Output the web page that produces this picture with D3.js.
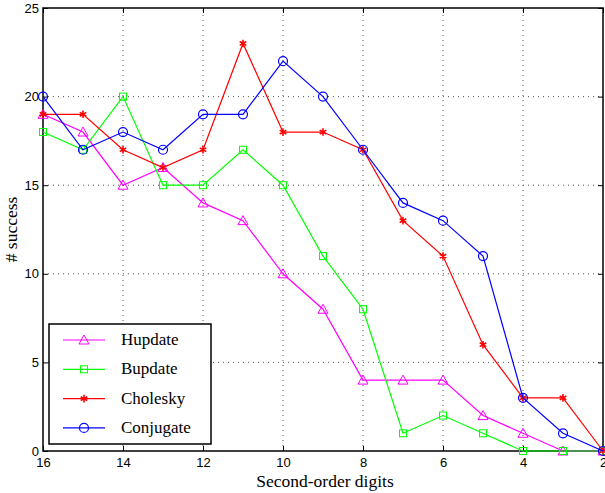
<!DOCTYPE html>
<html>
<head>
<meta charset="utf-8">
<script src="https://cdn.jsdelivr.net/npm/d3@7"></script>
<style>
  body { margin: 0; background: #fff; }
  .tick text { font-family: "Liberation Sans", Arial, sans-serif; font-size: 13px; fill: #000; }
  .lbl { font-family: "Liberation Serif", "Times New Roman", serif; font-size: 17.5px; fill: #000; }
  .leg { font-family: "Liberation Serif", "Times New Roman", serif; font-size: 17px; fill: #000; }
</style>
</head>
<body>
<script>
// digits on the x axis (reversed)
var digits = [16, 15, 14, 13, 12, 11, 10, 9, 8, 7, 6, 5, 4, 3, 2];
var xTicks = [16, 14, 12, 10, 8, 6, 4, 2];
var yTicks = [0, 5, 10, 15, 20, 25];

var hupdate   = [19, 18, 15, 16, 14, 13, 10, 8, 4, 4, 4, 2, 1, 0, 0];
var bupdate   = [18, 17, 20, 15, 15, 17, 15, 11, 8, 1, 2, 1, 0, 0, 0];
var cholesky  = [19, 19, 17, 16, 17, 23, 18, 18, 17, 13, 11, 6, 3, 3, 0];
var conjugate = [20, 17, 18, 17, 19, 19, 22, 20, 17, 14, 13, 11, 3, 1, 0];

var seriesNames = ["Hupdate", "Bupdate", "Cholesky", "Conjugate"];
var seriesColors = ["#ff00ff", "#00ff00", "#ff0000", "#0000ff"];
var seriesMarkers = ["triangle", "square", "star", "circle"];
var seriesValues = [hupdate, bupdate, cholesky, conjugate];

var W = 605, H = 493;
var margin = {top: 8, right: 2, bottom: 42, left: 43};

var svg = d3.select("body").append("svg")
   .attr("width", W)
   .attr("height", H);

var x = d3.scaleLinear().domain([16, 2]).range([margin.left, W - margin.right]);
var y = d3.scaleLinear().domain([0, 25]).range([H - margin.bottom, margin.top]);

// grid
svg.append("g").selectAll("line")
   .data(xTicks.slice(1, -1))
   .enter().append("line")
   .attr("x1", function(d) { return x(d); }).attr("x2", function(d) { return x(d); })
   .attr("y1", y(0)).attr("y2", y(25))
   .attr("stroke", "#555").attr("stroke-width", 1).attr("stroke-dasharray", "1,4");
svg.append("g").selectAll("line")
   .data(yTicks.slice(1, -1))
   .enter().append("line")
   .attr("y1", function(d) { return y(d); }).attr("y2", function(d) { return y(d); })
   .attr("x1", x(16)).attr("x2", x(2))
   .attr("stroke", "#555").attr("stroke-width", 1).attr("stroke-dasharray", "1,4");

// axes (ticks inward, matlab style)
svg.append("g")
   .attr("transform", "translate(0," + y(0) + ")")
   .call(d3.axisBottom(x).tickValues(xTicks).tickSize(-5).tickPadding(7).tickFormat(d3.format("d")))
   .call(function(g) { g.select(".domain").remove(); });
svg.append("g")
   .attr("transform", "translate(" + x(16) + ",0)")
   .call(d3.axisLeft(y).tickValues(yTicks).tickSize(-5).tickPadding(4))
   .call(function(g) { g.select(".domain").remove(); });
svg.append("g")
   .attr("transform", "translate(0," + y(25) + ")")
   .call(d3.axisTop(x).tickValues(xTicks).tickSize(-5).tickFormat(""))
   .call(function(g) { g.select(".domain").remove(); });
svg.append("g")
   .attr("transform", "translate(" + x(2) + ",0)")
   .call(d3.axisRight(y).tickValues(yTicks).tickSize(-5).tickFormat(""))
   .call(function(g) { g.select(".domain").remove(); });

svg.append("rect")
   .attr("x", x(16)).attr("y", y(25))
   .attr("width", x(2) - x(16)).attr("height", y(0) - y(25))
   .attr("fill", "none").attr("stroke", "#000").attr("stroke-width", 1.5);

function drawMarker(g, type, color, cx, cy) {
   if (type === "triangle") {
      g.append("path")
         .attr("d", "M" + cx + "," + (cy - 5) + "L" + (cx + 5) + "," + (cy + 4) + "L" + (cx - 5) + "," + (cy + 4) + "Z")
         .attr("fill", "none").attr("stroke", color).attr("stroke-width", 1);
   } else if (type === "square") {
      g.append("rect")
         .attr("x", cx - 3.5).attr("y", cy - 3.5).attr("width", 7).attr("height", 7)
         .attr("fill", "none").attr("stroke", color).attr("stroke-width", 1);
   } else if (type === "circle") {
      g.append("circle")
         .attr("cx", cx).attr("cy", cy).attr("r", 4.5)
         .attr("fill", "none").attr("stroke", color).attr("stroke-width", 1.2);
   } else {
      g.append("path")
         .attr("d", d3.symbol().type(d3.symbolAsterisk).size(40)())
         .attr("transform", "translate(" + cx + "," + cy + ")")
         .attr("fill", "none").attr("stroke", color).attr("stroke-width", 1.6);
   }
}

var line = d3.line()
   .x(function(d, i) { return x(digits[i]); })
   .y(function(d) { return y(d); });

seriesValues.forEach(function(vals, k) {
   var g = svg.append("g");
   g.append("path")
      .datum(vals)
      .attr("d", line)
      .attr("fill", "none")
      .attr("stroke", seriesColors[k])
      .attr("stroke-width", 1.2);
   vals.forEach(function(v, i) {
      drawMarker(g, seriesMarkers[k], seriesColors[k], x(digits[i]), y(v));
   });
});

// axis labels
svg.append("text")
   .attr("class", "lbl")
   .attr("x", (x(16) + x(2)) / 2 + 2).attr("y", 487)
   .attr("text-anchor", "middle")
   .text("Second-order digits");
svg.append("text")
   .attr("class", "lbl")
   .attr("transform", "translate(17," + ((y(0) + y(25)) / 2) + ") rotate(-90)")
   .attr("text-anchor", "middle")
   .text("# success");

// legend
var legend = svg.append("g");
legend.append("rect")
   .attr("x", 49).attr("y", 324).attr("width", 162).attr("height", 120)
   .attr("fill", "#fff").attr("stroke", "#000").attr("stroke-width", 1.5);
seriesNames.forEach(function(name, k) {
   var ly = 340 + k * 29.3;
   legend.append("line")
      .attr("x1", 63).attr("x2", 105).attr("y1", ly).attr("y2", ly)
      .attr("stroke", seriesColors[k]).attr("stroke-width", 1.2);
   drawMarker(legend, seriesMarkers[k], seriesColors[k], 84, ly);
   legend.append("text")
      .attr("class", "leg")
      .attr("x", 121).attr("y", ly + 5)
      .text(name);
});
</script>
</body>
</html>
